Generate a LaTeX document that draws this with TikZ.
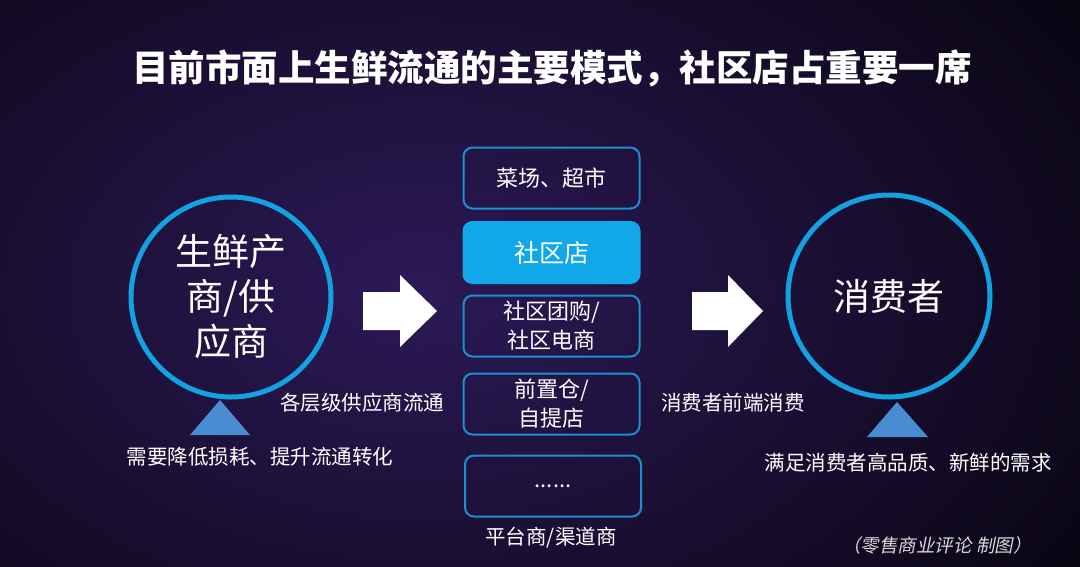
\documentclass[tikz,border=0pt]{standalone}
\usepackage{fontspec}
\setmainfont{Noto Sans CJK SC}
\newfontfamily\capfont{Noto Sans CJK SC}[FakeSlant=0.2]
\definecolor{glow}{HTML}{2C1957}
\definecolor{ringblue}{HTML}{12A2E2}
\definecolor{boxline}{HTML}{1C8FD0}
\definecolor{boxfill}{HTML}{10A8E8}
\definecolor{tri}{HTML}{4A8CD2}
\definecolor{capgrey}{HTML}{D8D8D8}
\tikzset{
  ring/.style={circle, draw=ringblue, line width=5pt, minimum size=200pt, inner sep=0pt, text=white, align=center, font=\fontsize{37}{45}\selectfont},
  chbox/.style={rectangle, rounded corners=9pt, draw=boxline, line width=2pt, minimum width=176pt, minimum height=61pt, inner sep=0pt, text=white, align=center, font=\fontsize{22}{29}\selectfont},
  hibox/.style={chbox, fill=boxfill, draw=boxfill},
  lbl/.style={text=white, inner sep=0pt, font=\fontsize{20.5}{24}\selectfont},
  blockarrow/.style={fill=white, draw=none},
  trifill/.style={fill=tri, draw=none}
}
\begin{document}
\begin{tikzpicture}[x=1pt,y=-1pt]
\useasboundingbox (0,0) rectangle (1080,566);
\begin{scope}
\clip (0,0) rectangle (1080,566);
\fill[black] (0,0) rectangle (1080,566);
\shade[inner color=glow, outer color=black] (420,290) ellipse (1000 and 650);
\end{scope}
% title
\node[text=white, inner sep=0pt, font=\fontsize{36.5}{40}\selectfont\bfseries] (title) at (552,68) {目前市面上生鲜流通的主要模式，社区店占重要一席};
% circles
\node[ring] (supplier) at (231,297) {生鲜产\\商/供\\应商};
\node[ring, minimum size=202pt] (consumer) at (889,296) {消费者};
% triangles
\coordinate (lt) at (220,400);
\fill[trifill] (lt) -- (250,435) -- (190,435) -- cycle;
\coordinate (rt) at (897,402);
\fill[trifill] (rt) -- (928,437) -- (867,437) -- cycle;
% block arrows
\fill[blockarrow] (363,292) -- (400,292) -- (400,275) -- (437,311) -- (400,347) -- (400,330) -- (363,330) -- cycle;
\fill[blockarrow] (692,292) -- (728,292) -- (728,275) -- (763,311) -- (728,347) -- (728,330) -- (692,330) -- cycle;
% channel boxes
\node[chbox] (b1) at (551.5,178) {菜场、超市};
\node[hibox, font=\fontsize{25}{29}\selectfont] (b2) at (551.5,252.5) {社区店};
\node[chbox] (b3) at (551.5,326) {社区团购/\\社区电商};
\node[chbox] (b4) at (551.5,404) {前置仓/\\自提店};
\node[chbox] (b5) at (553,486) {......};
% labels
\node[lbl] (platform) at (551,538) {平台商/渠道商};
\node[lbl] (flow) at (362,403) {各层级供应商流通};
\node[lbl] (front) at (733,403) {消费者前端消费};
\node[lbl] (need1) at (260,457) {需要降低损耗、提升流通转化};
\node[lbl] (need2) at (908,463) {满足消费者高品质、新鲜的需求};
\node[text=capgrey, inner sep=0pt, font=\fontsize{18.5}{22}\capfont] (credit) at (937,545) {（零售商业评论\ 制图）};
\end{tikzpicture}
\end{document}
